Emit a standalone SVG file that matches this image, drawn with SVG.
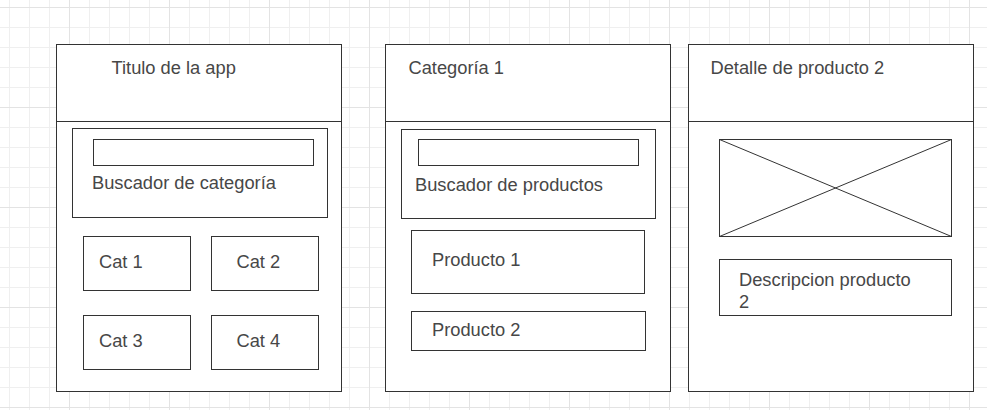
<svg xmlns="http://www.w3.org/2000/svg" width="987" height="410" viewBox="0 0 987 410">
<defs>
<pattern id="gMinor" x="9" y="7" width="20" height="20" patternUnits="userSpaceOnUse">
<path d="M0.5 0V20M0 0.5H20" stroke="#efefef" stroke-width="1" fill="none"/>
</pattern>
<pattern id="gMajor" x="69" y="7" width="100" height="100" patternUnits="userSpaceOnUse">
<path d="M0.5 0V100M0 0.5H100" stroke="#e3e3e3" stroke-width="1" fill="none"/>
</pattern>
</defs>
<style>
.b{fill:#fff;stroke:#333;stroke-width:1}
.l{stroke:#333;stroke-width:1;fill:none}
.t{font-family:"Liberation Sans",Arial,sans-serif;font-size:18.3px;fill:#474747}
</style>
<rect width="987" height="410" fill="#fff"/>
<rect width="987" height="410" fill="url(#gMinor)"/>
<rect width="987" height="410" fill="url(#gMajor)"/>

<g id="screen1">
<rect class="b" x="56.5" y="44.5" width="285" height="347"/>
<line class="l" x1="56.5" y1="121.5" x2="341.5" y2="121.5"/>
<text class="t" x="111.5" y="74">Titulo de la app</text>
</g>
<g id="buscador-categoria">
<rect class="b" x="72.5" y="128.5" width="255" height="89"/>
<rect class="b" x="93.5" y="139.5" width="220" height="26"/>
<text class="t" x="92" y="188.5">Buscador de categoría</text>
</g>
<g id="cat1">
<rect class="b" x="83.5" y="236.5" width="107" height="54"/>
<text class="t" x="99" y="268">Cat 1</text>
</g>
<g id="cat2">
<rect class="b" x="211.5" y="236.5" width="107" height="54"/>
<text class="t" x="236.5" y="268">Cat 2</text>
</g>
<g id="cat3">
<rect class="b" x="83.5" y="315.5" width="107" height="54"/>
<text class="t" x="99" y="346.5">Cat 3</text>
</g>
<g id="cat4">
<rect class="b" x="211.5" y="315.5" width="107" height="54"/>
<text class="t" x="236.5" y="346.5">Cat 4</text>
</g>

<g id="screen2">
<rect class="b" x="385.5" y="44.5" width="285" height="347"/>
<line class="l" x1="385.5" y1="121.5" x2="670.5" y2="121.5"/>
<text class="t" x="408.5" y="74">Categoría 1</text>
</g>
<g id="buscador-productos">
<rect class="b" x="401.5" y="129.5" width="254" height="89"/>
<rect class="b" x="418.5" y="139.5" width="220" height="26"/>
<text class="t" x="415" y="190.5">Buscador de productos</text>
</g>
<g id="producto1">
<rect class="b" x="411.5" y="230.5" width="233" height="63"/>
<text class="t" x="432" y="266">Producto 1</text>
</g>
<g id="producto2">
<rect class="b" x="411.5" y="311.5" width="234" height="39"/>
<text class="t" x="432" y="336">Producto 2</text>
</g>

<g id="screen3">
<rect class="b" x="688.5" y="44.5" width="285" height="347"/>
<line class="l" x1="688.5" y1="121.5" x2="973.5" y2="121.5"/>
<text class="t" x="710.5" y="74">Detalle de producto 2</text>
</g>
<g id="imagen">
<rect class="b" x="719.5" y="139.5" width="232" height="97"/>
<path class="l" d="M719.5 139.5L951.5 236.5M951.5 139.5L719.5 236.5"/>
</g>
<g id="descripcion">
<rect class="b" x="719.5" y="259.5" width="232" height="56"/>
<text class="t" x="739" y="286">Descripcion producto</text>
<text class="t" x="739" y="308">2</text>
</g>
<g id="connectors"/>
</svg>
